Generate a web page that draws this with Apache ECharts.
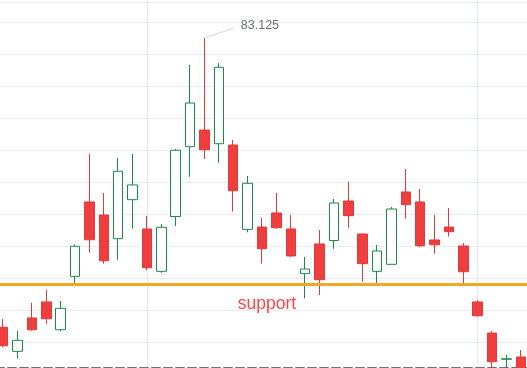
<!DOCTYPE html>
<html><head><meta charset="utf-8">
<script src="https://cdn.jsdelivr.net/npm/echarts/dist/echarts.min.js"></script>
<style>
html,body{margin:0;padding:0;background:#fff;overflow:hidden;width:527px;height:368px;position:relative}
#c{position:absolute;left:-4px;top:-10px;width:532px;height:384px}
</style>
</head><body><div id="c"></div>
<script>
const categories = [
  '2021-02-15','2021-02-16','2021-02-17','2021-02-18','2021-02-19',
  '2021-02-22','2021-02-23','2021-02-24','2021-02-25','2021-02-26',
  '2021-03-01','2021-03-02','2021-03-03','2021-03-04','2021-03-05',
  '2021-03-08','2021-03-09','2021-03-10','2021-03-11','2021-03-12',
  '2021-03-15','2021-03-16','2021-03-17','2021-03-18','2021-03-19',
  '2021-03-22','2021-03-23','2021-03-24','2021-03-25','2021-03-26',
  '2021-03-29','2021-03-30','2021-03-31',
  '2021-04-01','2021-04-02','2021-04-05','2021-04-06'
];
const opens  = [80.865,80.677,80.938,81.063,80.846,81.263,81.844,81.742,81.557,81.862,
                81.633,81.302,81.730,82.276,82.406,82.299,82.289,81.630,81.648,81.758,
                81.633,81.284,81.516,81.543,81.852,81.594,81.302,81.357,81.922,81.844,
                81.547,81.648,81.500,81.063,80.820,80.615,80.633];
const closes = [80.721,80.763,80.846,80.932,81.013,81.498,81.549,81.385,82.084,81.977,
                81.330,81.646,82.248,82.617,82.252,82.896,81.932,81.990,81.479,81.643,
                81.422,81.320,81.237,81.836,81.737,81.362,81.461,81.789,81.823,81.502,
                81.510,81.612,81.299,80.955,80.596,80.619,80.531];
const lows   = [80.707,80.620,80.838,80.893,80.836,81.203,81.448,81.362,81.393,81.635,
                81.310,81.291,81.656,82.041,82.180,82.151,81.768,81.607,81.362,81.635,
                81.416,81.091,81.117,81.479,81.643,81.221,81.203,81.357,81.713,81.490,
                81.440,81.573,81.203,80.948,80.547,80.547,80.508];
const highs  = [80.930,80.836,81.055,81.156,81.070,81.513,82.219,81.914,82.188,82.219,
                81.734,81.672,82.258,82.914,83.125,82.930,82.328,82.047,81.719,81.914,
                81.742,81.414,81.625,81.867,82.002,81.594,81.508,81.805,82.102,81.945,
                81.742,81.797,81.523,81.078,80.836,80.648,80.688];
const supportLevel = 81.2;
const supportText = 'support';
const yMin = 80.5, yMax = 83.5, yInterval = 0.25;

const candleData = opens.map((o, i) => [o, closes[i], lows[i], highs[i]]);
const maxHigh = Math.max(...highs);
const maxIdx = highs.indexOf(maxHigh);

const chart = echarts.init(document.getElementById('c'));
chart.setOption({
  animation: false,
  grid: {left: 0, right: 0, top: 0, bottom: 0, containLabel: false},
  xAxis: [{
    type: 'category', data: categories, boundaryGap: true, offset: -6,
    axisLine: {show: true, lineStyle: {color: '#6e7079', width: 2, type: 'dashed'}},
    axisTick: {show: false}, axisLabel: {show: false},
    splitLine: {show: true, alignWithLabel: true,
      interval: (i, v) => String(v).slice(-3) === '-01',
      lineStyle: {color: '#e3e8f0', width: 1}}
  }, {
    type: 'category', data: categories, position: 'top', offset: -12,
    axisLine: {show: true, lineStyle: {color: '#e9ecf1', width: 1}},
    axisTick: {show: false}, axisLabel: {show: false}, splitLine: {show: false}
  }],
  yAxis: {
    type: 'value', min: yMin, max: yMax, interval: yInterval,
    axisLine: {show: false}, axisTick: {show: false}, axisLabel: {show: false},
    splitLine: {show: true, lineStyle: {color: '#e9ecf1', width: 1}}
  },
  series: [{
    type: 'candlestick', data: candleData, barWidth: 10,
    itemStyle: {color: '#ffffff', color0: '#ee3e3e', borderColor: '#1a8c48', borderColor0: '#e03a3a', borderWidth: 1},
    markLine: {
      silent: true, animation: false, symbol: ['none', 'none'],
      data: [
        {yAxis: supportLevel,
         lineStyle: {color: '#f5a623', width: 3, type: 'solid'},
         label: {show: true, position: 'insideMiddleBottom', formatter: supportText,
                 color: '#ff4545', fontSize: 17.5, distance: 11, offset: [5, 0]}},
        [{coord: [maxIdx, maxHigh],
          lineStyle: {color: '#d6d6d6', width: 1, type: 'solid'},
          label: {show: true, position: 'end', formatter: String(maxHigh), color: '#6e7079', fontSize: 12.5, distance: 8}},
         {coord: [maxIdx + 2, maxHigh + 0.075]}]
      ]
    }
  }]
});
</script></body></html>
